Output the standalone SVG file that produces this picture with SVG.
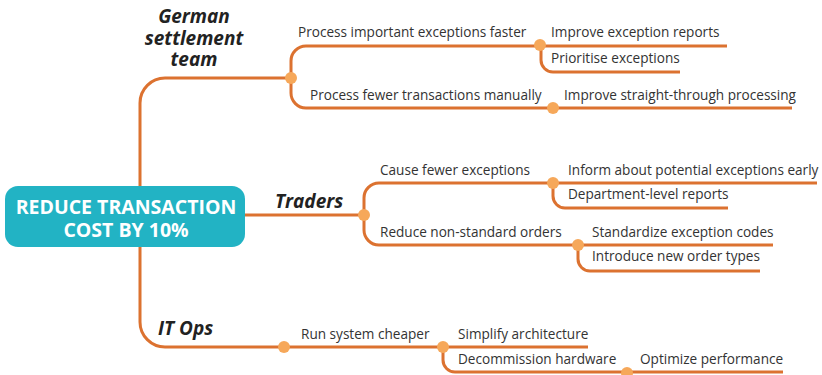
<svg xmlns="http://www.w3.org/2000/svg" width="822" height="375" viewBox="0 0 822 375">
  <style>
    .branch { fill: none; stroke: #DC7230; stroke-width: 3; stroke-linecap: butt; }
    .dot { fill: #F6A85A; }
    .label { font-family: "Open Sans", "Noto Sans", "Liberation Sans", sans-serif; font-size: 13.6px; fill: #333333; }
    .topic { font-family: "Open Sans", "Noto Sans", "Liberation Sans", sans-serif; font-size: 19px; font-weight: bold; font-style: italic; fill: #222222; }
    .root-text { font-family: "Open Sans", "Noto Sans", "Liberation Sans", sans-serif; font-size: 19.5px; font-weight: bold; fill: #ffffff; text-anchor: middle; }
  </style>
  <rect width="822" height="375" fill="#ffffff"/>

  <!-- connectors -->
  <g id="connectors">
    <!-- root to main topics -->
    <path class="branch" d="M140,186 V103 A25,25 0 0 1 165,78 H291"/>
    <path class="branch" d="M245,215 H364"/>
    <path class="branch" d="M140,247 V322 A25,25 0 0 0 165,347 H443"/>

    <!-- German settlement team -->
    <path class="branch" d="M291,78 V61 A15,15 0 0 1 306,46 H727"/>
    <path class="branch" d="M291,78 V93 A15,15 0 0 0 306,108 H792"/>
    <path class="branch" d="M541,46 V60 A12,12 0 0 0 553,72 H680"/>

    <!-- Traders -->
    <path class="branch" d="M364,215 V198 A15,15 0 0 1 379,183 H817"/>
    <path class="branch" d="M364,215 V230 A15,15 0 0 0 379,245 H773"/>
    <path class="branch" d="M553,183 V196 A12,12 0 0 0 565,208 H728"/>
    <path class="branch" d="M578,245 V259 A12,12 0 0 0 590,271 H760"/>

    <!-- IT Ops -->
    <path class="branch" d="M443,347 V360 A12,12 0 0 0 455,372 H783"/>
    <path class="branch" d="M443,347 H588"/>
  </g>

  <!-- root -->
  <g id="root">
    <rect x="5" y="186" width="240" height="61" rx="13" fill="#22B3C4"/>
    <text class="root-text" x="126" y="214">REDUCE TRANSACTION</text>
    <text class="root-text" x="126" y="237">COST BY 10%</text>
  </g>

  <!-- German settlement team -->
  <g id="topic-german">
    <text class="topic" text-anchor="middle" x="194" y="23">German</text>
    <text class="topic" text-anchor="middle" x="194" y="45">settlement</text>
    <text class="topic" text-anchor="middle" x="194" y="66">team</text>
    <circle class="dot" cx="291" cy="78" r="6"/>
  </g>
  <g id="node-process-faster">
    <text class="label" x="298" y="37">Process important exceptions faster</text>
    <circle class="dot" cx="540" cy="45" r="6"/>
  </g>
  <g id="node-improve-reports">
    <text class="label" x="551" y="37">Improve exception reports</text>
  </g>
  <g id="node-prioritise">
    <text class="label" x="551" y="63">Prioritise exceptions</text>
  </g>
  <g id="node-fewer-manual">
    <text class="label" x="310" y="100">Process fewer transactions manually</text>
    <circle class="dot" cx="553" cy="108" r="6"/>
  </g>
  <g id="node-stp">
    <text class="label" x="564" y="100">Improve straight-through processing</text>
  </g>

  <!-- Traders -->
  <g id="topic-traders">
    <text class="topic" x="275" y="208">Traders</text>
    <circle class="dot" cx="364" cy="215" r="6"/>
  </g>
  <g id="node-cause-fewer">
    <text class="label" x="380" y="175">Cause fewer exceptions</text>
    <circle class="dot" cx="553" cy="183" r="6"/>
  </g>
  <g id="node-inform">
    <text class="label" x="568" y="175">Inform about potential exceptions early</text>
  </g>
  <g id="node-dept-reports">
    <text class="label" x="568" y="199">Department-level reports</text>
  </g>
  <g id="node-non-standard">
    <text class="label" x="380" y="237">Reduce non-standard orders</text>
    <circle class="dot" cx="578" cy="245" r="6"/>
  </g>
  <g id="node-standardize">
    <text class="label" x="592" y="237">Standardize exception codes</text>
  </g>
  <g id="node-order-types">
    <text class="label" x="592" y="261">Introduce new order types</text>
  </g>

  <!-- IT Ops -->
  <g id="topic-itops">
    <text class="topic" x="158" y="335">IT Ops</text>
    <circle class="dot" cx="284" cy="347" r="6"/>
  </g>
  <g id="node-run-cheaper">
    <text class="label" x="301" y="339">Run system cheaper</text>
    <circle class="dot" cx="443" cy="347" r="6"/>
  </g>
  <g id="node-simplify">
    <text class="label" x="458" y="339">Simplify architecture</text>
  </g>
  <g id="node-decommission">
    <text class="label" x="458" y="364">Decommission hardware</text>
    <circle class="dot" cx="627" cy="373" r="6"/>
  </g>
  <g id="node-optimize">
    <text class="label" x="640" y="364">Optimize performance</text>
  </g>
</svg>
